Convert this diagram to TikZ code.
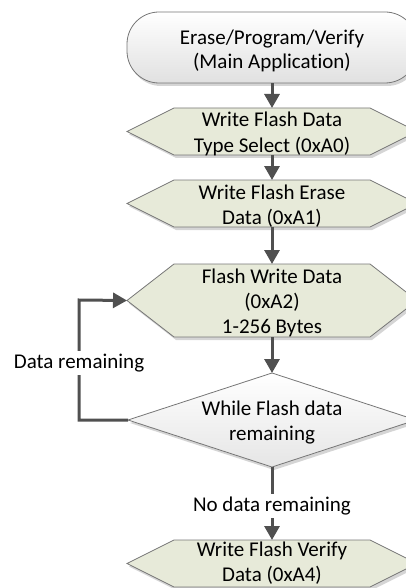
\documentclass[tikz,border=0pt]{standalone}
\usepackage{fontspec}
\setmainfont{Carlito}[Ligatures=NoCommon]
\usetikzlibrary{arrows.meta,shadows}
\definecolor{hexfill}{RGB}{231,234,217}
\definecolor{edgec}{RGB}{118,118,118}
\definecolor{connc}{RGB}{80,80,80}
\tikzset{
  shad/.style={drop shadow={shadow xshift=2pt,shadow yshift=-3pt,fill=black!30,opacity=0.55}},
  txt/.style={align=center,inner sep=0pt,font=\fontsize{21}{25.2}\selectfont,text=black},
  hexsty/.style={draw=edgec,line width=0.8pt,fill=hexfill,shad},
  diasty/.style={draw=edgec,line width=0.8pt,top color=white,bottom color=black!10,shad},
  termsty/.style={draw=edgec,line width=0.8pt,rectangle,rounded corners=32pt,
    minimum width=290pt,minimum height=71pt,top color=white,bottom color=black!12,shad},
  conn/.style={line width=3pt,draw=connc,-{Triangle[width=15pt,length=14pt]}},
  lab/.style={txt,fill=white,inner sep=3pt}
}
\newcommand\hexnode[5][2.5]{%
  \draw[hexsty] (174,#3-#4) -- (370,#3-#4) -- (417,#3) -- (370,#3+#4) -- (174,#3+#4) -- (127,#3) -- cycle;
  \node[txt] (#2) at (272,#3+#1) {#5};
  \coordinate (#2-n) at (272,#3-#4);
  \coordinate (#2-s) at (272,#3+#4);
  \coordinate (#2-w) at (127,#3);
}
\begin{document}
\begin{tikzpicture}[x=1pt,y=-1pt]
\useasboundingbox (0,0) rectangle (406,588);
\clip (0,0) rectangle (406,588);
\node[termsty] (t) at (272,47.5) {};
\node[txt,font=\fontsize{21}{24}\selectfont] (tt) at (272,51) {Erase/Program/Verify\\(Main Application)};
\hexnode{h1}{131.5}{23.5}{Write Flash Data\\Type Select (0xA0)}
\hexnode{h2}{203.5}{23.5}{Write Flash Erase\\Data (0xA1)}
\hexnode{h3}{300.5}{36.5}{Flash Write Data\\(0xA2)\\1-256 Bytes}
\draw[diasty] (272,373) -- (416,420) -- (272,467) -- (128,420) -- cycle;
\node[txt] (d) at (272,422.5) {While Flash data\\remaining};
\coordinate (dT) at (272,373);
\coordinate (dB) at (272,467);
\coordinate (dL) at (128,420);
\hexnode[0]{h4}{563.5}{23.5}{Write Flash Verify\\Data (0xA4)}
\coordinate (lc) at (79,300);
\draw[conn] (t.south) -- (h1-n);
\draw[conn] (h1-s) -- (h2-n);
\draw[conn] (h2-s) -- (h3-n);
\draw[conn] (h3-s) -- (dT);
\draw[conn] (dL) -| (lc) -- (h3-w);
\draw[conn] (dB) -- (h4-n);
\node[lab] (l1) at (79,363) {Data remaining};
\node[lab] (l2) at (272,506) {No data remaining};
\end{tikzpicture}
\end{document}
